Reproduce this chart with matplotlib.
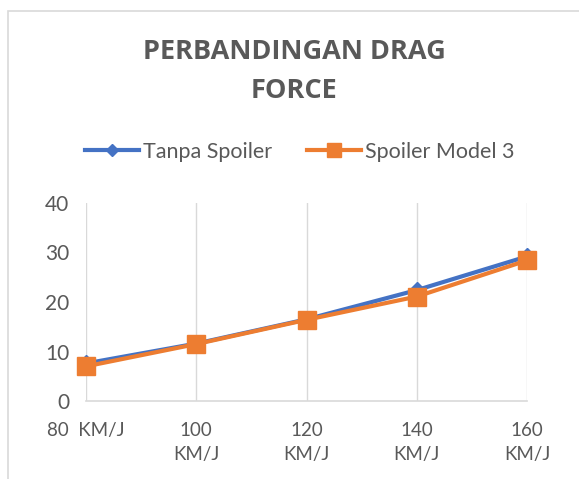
import matplotlib.pyplot as plt
from matplotlib.patches import Rectangle

# Data
categories = ['80  KM/J', '100\nKM/J', '120\nKM/J', '140\nKM/J', '160\nKM/J']
tanpa_spoiler = [7.6, 11.6, 16.5, 22.4, 29.2]
spoiler_model3 = [7.0, 11.5, 16.4, 21.1, 28.4]

grey = '#595959'
plt.rcParams['font.family'] = ['Lato', 'DejaVu Sans']

fig = plt.figure(figsize=(5.79, 4.79), dpi=100)

# Chart border (cropped at right and bottom)
fig.patches.append(Rectangle((8 / 579, -0.05), 1.0, (479 - 11) / 479 + 0.05,
                             transform=fig.transFigure, fill=False,
                             edgecolor='#D9D9D9', linewidth=1.2))

ax = fig.add_axes([86 / 579, (479 - 401) / 479, (527 - 86) / 579, (401 - 203) / 479])
x = range(len(categories))
ax.plot(x, tanpa_spoiler, color='#4472C4', linewidth=3, marker='D',
        markersize=8, label='Tanpa Spoiler', clip_on=False, zorder=3)
ax.plot(x, spoiler_model3, color='#ED7D31', linewidth=3, marker='s',
        markersize=13, label='Spoiler Model 3', clip_on=False, zorder=4)

ax.set_xlim(0, len(categories) - 1)
ax.set_ylim(0, 40)
ax.set_yticks([0, 10, 20, 30, 40])
ax.set_xticks(list(x))
ax.set_xticklabels(categories, linespacing=1.5)
ax.grid(True, axis='x', color='#D9D9D9', linewidth=1)
ax.set_axisbelow(True)
for s in ['top', 'right', 'left']:
    ax.spines[s].set_visible(False)
ax.spines['bottom'].set_color('#D9D9D9')
ax.spines['bottom'].set_linewidth(1.2)
ax.tick_params(axis='both', length=0, colors=grey)
ax.tick_params(axis='y', labelsize=15, pad=12)
ax.tick_params(axis='x', labelsize=13.5, pad=15)

title_font = ['Open Sans', 'DejaVu Sans']
fig.text(0.508, 1 - 52 / 479, 'PERBANDINGAN DRAG', ha='center', va='center',
         fontsize=19.5, fontweight='bold', color=grey, family=title_font)
fig.text(0.508, 1 - 91 / 479, 'FORCE', ha='center', va='center',
         fontsize=19.5, fontweight='bold', color=grey, family=title_font)

fig.legend(loc='center', bbox_to_anchor=(0.518, 1 - 152 / 479), ncol=2,
           frameon=False, fontsize=15.5, labelcolor=grey, handlelength=2.5,
           handletextpad=0.2, columnspacing=1.6, markerscale=0.8)

fig.savefig('out.png', dpi=100)
